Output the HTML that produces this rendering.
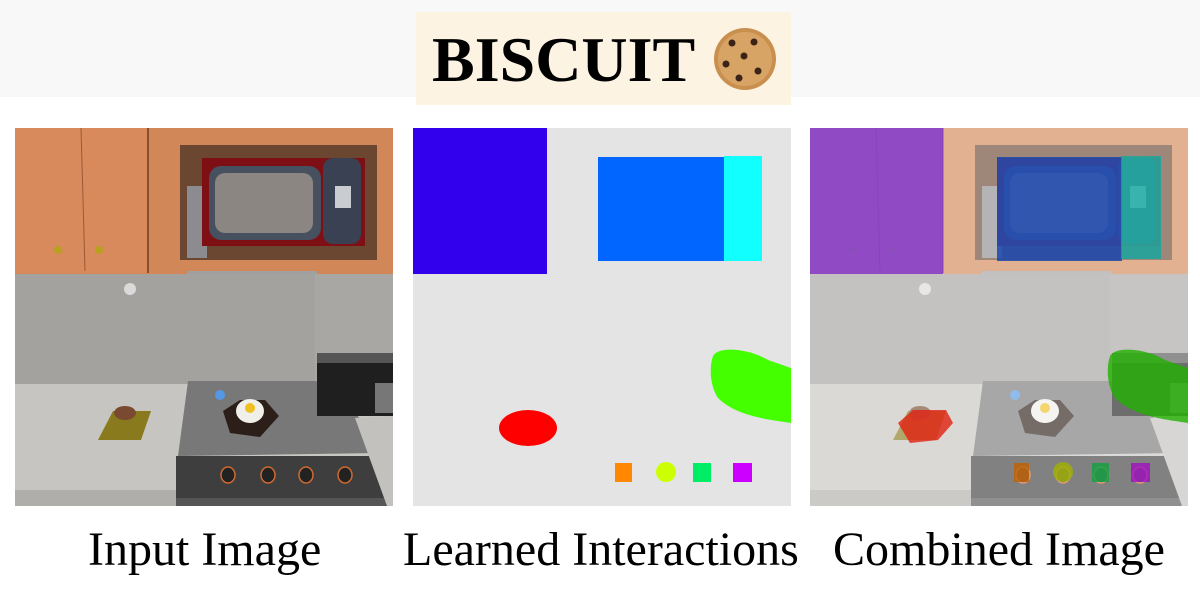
<!DOCTYPE html>
<html><head><meta charset="utf-8"><style>
html,body{margin:0;padding:0;background:#fff;width:1200px;height:600px;overflow:hidden;position:relative;font-family:"Liberation Serif",serif}
.band{position:absolute;left:0;top:0;width:1200px;height:97px;background:#f8f8f8}
.title{position:absolute;left:416px;top:12px;width:375px;height:93px;background:#fdf3e3}
.tt{position:absolute;left:432px;top:20px;font-size:64px;font-weight:bold;line-height:80px;color:#000}
.lbl{position:absolute;top:520px;font-size:48px;line-height:60px;color:#000;white-space:nowrap}
svg{position:absolute}
</style></head><body>
<div class="band"></div>
<div class="title"></div>
<div class="tt">BISCUIT</div>
<svg style="left:712px;top:26px" width="66" height="66" viewBox="0 0 66 66">
<circle cx="33" cy="33" r="31" fill="#c98f4f"/><circle cx="33" cy="33" r="27" fill="#d8a466"/>
<g fill="#3a2418"><circle cx="20" cy="17" r="3.5"/><circle cx="42" cy="16" r="3.5"/><circle cx="32" cy="30" r="3.5"/><circle cx="14" cy="38" r="3.5"/><circle cx="46" cy="45" r="3.5"/><circle cx="27" cy="52" r="3.5"/></g>
</svg>

<svg width="0" height="0" style="left:0;top:0">
<defs>
<g id="k">
<rect x="0" y="0" width="378" height="378" fill="#c9c7c3"/>
<rect x="0" y="0" width="378" height="146" fill="#d18757"/>
<rect x="0" y="0" width="133" height="145" fill="#d98a5c"/>
<line x1="66" y1="0" x2="70" y2="143" stroke="#9a5a35" stroke-width="1"/>
<line x1="133" y1="0" x2="133" y2="145" stroke="#8a4e2e" stroke-width="2"/>
<circle cx="43" cy="122" r="4" fill="#b8a020"/><circle cx="84" cy="122" r="4" fill="#b8a020"/>
<rect x="165" y="17" width="197" height="115" fill="#6b4630"/>
<rect x="172" y="58" width="20" height="72" fill="#8c8c90"/>
<rect x="187" y="30" width="163" height="88" fill="#7e0f14"/>
<rect x="194" y="38" width="112" height="74" rx="12" fill="#46505e"/>
<rect x="200" y="45" width="98" height="60" rx="10" fill="#8b8681"/>
<rect x="308" y="30" width="38" height="86" rx="10" fill="#3a4152"/>
<rect x="320" y="58" width="16" height="22" fill="#c9ccd0"/>
<rect x="172" y="143" width="130" height="6" fill="#a0a0a0"/>
<rect x="0" y="146" width="378" height="110" fill="#a9a7a3"/>
<rect x="0" y="146" width="300" height="110" fill="#a4a29e"/>
<circle cx="115" cy="161" r="6" fill="#e8e8e8" opacity=".8"/>
<rect x="0" y="256" width="170" height="122" fill="#c7c5c1"/>
<rect x="0" y="362" width="170" height="16" fill="#b0aeaa"/>
<polygon points="98,283 136,283 126,312 83,312" fill="#8a7a1e"/>
<ellipse cx="110" cy="285" rx="11" ry="7" fill="#7a4a30"/>
<polygon points="173,253 300,253 325,258 365,325 163,328" fill="#787878"/>
<rect x="161" y="328" width="211" height="42" fill="#3e3e3e"/>
<rect x="161" y="370" width="211" height="8" fill="#555"/>
<g fill="#222" stroke="#d06a30" stroke-width="1.5"><ellipse cx="213" cy="347" rx="7" ry="8"/><ellipse cx="253" cy="347" rx="7" ry="8"/><ellipse cx="291" cy="347" rx="7" ry="8"/><ellipse cx="330" cy="347" rx="7" ry="8"/></g>
<polygon points="208,283 225,272 250,272 264,288 245,309 215,305" fill="#2c1e18"/>
<ellipse cx="235" cy="283" rx="14" ry="12" fill="#f0efea"/><circle cx="235" cy="280" r="5" fill="#f0c020"/>
<circle cx="205" cy="267" r="5" fill="#4aa0ff" opacity=".8"/>
<rect x="302" y="225" width="76" height="63" fill="#1f1f1f"/>
<rect x="302" y="225" width="76" height="10" fill="#555"/>
<rect x="360" y="255" width="18" height="30" fill="#777"/>
<polygon points="340,290 378,288 378,378 372,378" fill="#c3c1bd"/>
</g>
</defs></svg>

<svg style="left:15px;top:128px" width="378" height="378" viewBox="0 0 378 378"><use href="#k"/></svg>

<svg style="left:413px;top:128px" width="378" height="378" viewBox="0 0 378 378">
<rect width="378" height="378" fill="#e4e4e4"/>
<rect x="0" y="0" width="134" height="146" fill="#3300ee"/>
<rect x="185" y="29" width="127" height="104" fill="#0066ff"/>
<rect x="311" y="28" width="38" height="105" fill="#11ffff"/>
<path d="M300,228 C305,218 335,220 355,232 L378,240 L378,295 L365,293 C345,290 320,285 305,270 C297,258 296,240 300,228Z" fill="#44ff00"/>
<ellipse cx="115" cy="300" rx="29" ry="18" fill="#ff0000"/>
<rect x="202" y="335" width="17" height="19" fill="#ff8800"/>
<circle cx="253" cy="344" r="10" fill="#ccff00"/>
<rect x="280" y="335" width="18" height="19" fill="#00ee66"/>
<rect x="320" y="335" width="19" height="19" fill="#cc00ff"/>
</svg>

<svg style="left:810px;top:128px" width="378" height="378" viewBox="0 0 378 378">
<use href="#k"/>
<rect width="378" height="378" fill="#fff" opacity=".35"/>
<rect x="0" y="0" width="133" height="146" fill="#7a2fd0" opacity=".8"/>
<rect x="187" y="29" width="125" height="104" fill="#1040b0" opacity=".8"/>
<rect x="311" y="28" width="40" height="103" fill="#10a8a0" opacity=".8"/>
<path d="M300,228 C305,218 335,220 355,232 L378,240 L378,295 L365,293 C345,290 320,285 305,270 C297,258 296,240 300,228Z" fill="#20b000" opacity=".8"/>
<polygon points="88,295 103,282 136,282 143,295 128,312 100,315" fill="#e02010" opacity=".8"/>
<rect x="204" y="335" width="15" height="19" fill="#c06000" opacity=".8"/>
<circle cx="253" cy="344" r="10" fill="#a0b000" opacity=".8"/>
<rect x="282" y="335" width="17" height="19" fill="#10a040" opacity=".8"/>
<rect x="321" y="335" width="19" height="19" fill="#a010c0" opacity=".8"/>
</svg>

<div class="lbl" style="left:88px">Input Image</div>
<div class="lbl" style="left:403px">Learned Interactions</div>
<div class="lbl" style="left:833px">Combined Image</div>
</body></html>
